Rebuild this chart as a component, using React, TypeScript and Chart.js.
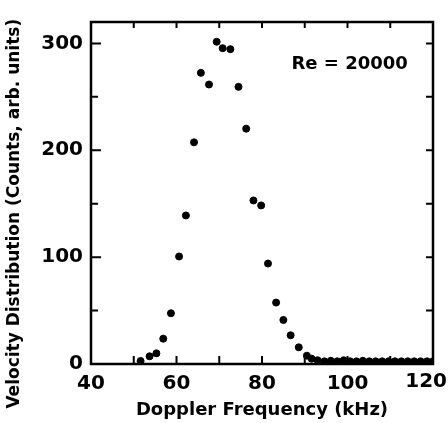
import React, { useEffect, useRef } from "react";
import { Chart, registerables } from "chart.js";

Chart.register(...registerables);

const frequencyKHz: number[] = [
  51.6, 53.7, 55.3, 56.9, 58.7, 60.6, 62.2, 64.1, 65.7, 67.6, 69.4, 70.8,
  72.6, 74.5, 76.3, 78.0, 79.8, 81.4, 83.3, 85.0, 86.7, 88.6, 90.5, 91.6,
  93.0, 94.6, 96.1, 97.6, 99.1, 100.6, 102.1, 103.6, 105.1, 106.6, 108.1,
  109.6, 111.1, 112.6, 114.1, 115.6, 117.1, 118.6, 120.0,
];
const counts: number[] = [
  2.8, 7.2, 10, 23.7, 47.5, 100.6, 139, 207.4, 272.4, 261.5, 301.5, 295.5,
  294.6, 259.3, 220.2, 153, 148.4, 94, 57.5, 41.2, 26.9, 15.6, 7.8, 5.0,
  3.5, 2.5, 3.0, 2.5, 3.5, 2.5, 2.5, 3.0, 2.5, 2.5, 2.5, 2.5, 2.5, 2.5,
  2.5, 2.5, 2.5, 2.5, 2.5,
];
const xTitle = "Doppler Frequency (kHz)";
const yTitle =
  "Velocity Distribution (Counts, arb. units)\u00a0\u00a0\u00a0\u00a0\u00a0\u00a0\u00a0";
const annotationText = "Re = 20000";
const annotationAt = { x: 100.5, y: 280 };
const X_MAX = 120;

const FONT = "'DejaVu Sans', sans-serif";
const TICK_FONT_SIZE = 20;
const TICK_PAD = 8;

const framePlugin = {
  id: "frame",
  afterDatasetsDraw(chart: any) {
    const { ctx, chartArea: a, scales, width } = chart;
    const xs = scales.x;
    const ys = scales.y;
    ctx.save();
    ctx.strokeStyle = "#000";
    ctx.lineWidth = 2.5;
    ctx.strokeRect(a.left, a.top, a.right - a.left, a.bottom - a.top);
    ctx.lineWidth = 2;
    ctx.beginPath();
    ys.ticks.forEach((t: any) => {
      const py = ys.getPixelForValue(t.value);
      if (t.value <= ys.min || t.value >= ys.max) return;
      const lenL = t.value % 100 === 0 ? 10 : 7;
      ctx.moveTo(a.left, py);
      ctx.lineTo(a.left + lenL, py);
      ctx.moveTo(a.right, py);
      ctx.lineTo(a.right - 7, py);
    });
    xs.ticks.forEach((t: any) => {
      const px = xs.getPixelForValue(t.value);
      if (t.value <= xs.min || t.value >= xs.max) return;
      ctx.moveTo(px, a.bottom);
      ctx.lineTo(px, a.bottom - 8);
      ctx.moveTo(px, a.top);
      ctx.lineTo(px, a.top + 6);
    });
    ctx.stroke();
    ctx.fillStyle = "#000";
    // last x tick label, kept inside the canvas
    ctx.font = `bold ${TICK_FONT_SIZE}px ${FONT}`;
    ctx.textAlign = "center";
    ctx.textBaseline = "top";
    const lastLabel = String(X_MAX);
    const w = ctx.measureText(lastLabel).width;
    const lx = Math.min(xs.getPixelForValue(X_MAX), width - 1 - w / 2);
    ctx.fillText(lastLabel, lx, xs.top + TICK_PAD);
    // annotation
    ctx.font = `bold 18px ${FONT}`;
    ctx.textBaseline = "middle";
    ctx.fillText(
      annotationText,
      xs.getPixelForValue(annotationAt.x),
      ys.getPixelForValue(annotationAt.y)
    );
    ctx.restore();
  },
};

export default function App() {
  const ref = useRef<HTMLCanvasElement>(null);
  useEffect(() => {
    if (!ref.current) return;
    const chart = new Chart(ref.current, {
      type: "scatter",
      data: {
        datasets: [
          {
            data: frequencyKHz.map((x, i) => ({ x, y: counts[i] })),
            backgroundColor: "#000",
            borderColor: "#000",
            pointRadius: 3.5,
            pointHoverRadius: 3.5,
          },
        ],
      },
      options: {
        animation: false,
        responsive: false,
        events: [],
        layout: { padding: { left: 0, right: 15, top: 22, bottom: 0 } },
        plugins: { legend: { display: false }, tooltip: { enabled: false } },
        scales: {
          x: {
            type: "linear",
            min: 40,
            max: X_MAX,
            grid: { display: false, drawTicks: false },
            border: { display: false },
            ticks: {
              stepSize: 10,
              padding: TICK_PAD,
              color: "#000",
              font: { family: FONT, size: TICK_FONT_SIZE, weight: "bold" },
              callback: (v: any) =>
                Number(v) % 20 === 0 && Number(v) !== X_MAX ? String(v) : "",
              maxRotation: 0,
              autoSkip: false,
            },
            title: {
              display: true,
              text: xTitle,
              color: "#000",
              font: { family: FONT, size: 18, weight: "bold" },
              padding: { top: 0, bottom: 2 },
            },
            afterFit: (s: any) => {
              s.height = 59;
              s.paddingLeft = 0;
              s.paddingRight = 0;
            },
          },
          y: {
            type: "linear",
            min: 0,
            max: 320,
            grid: { display: false, drawTicks: false },
            border: { display: false },
            ticks: {
              stepSize: 50,
              includeBounds: false,
              padding: TICK_PAD,
              color: "#000",
              font: { family: FONT, size: TICK_FONT_SIZE, weight: "bold" },
              callback: (v: any) => (Number(v) % 100 === 0 ? String(v) : ""),
              autoSkip: false,
            },
            title: {
              display: true,
              text: yTitle,
              color: "#000",
              font: { family: FONT, size: 17, weight: "bold" },
              padding: { top: 4, bottom: 0 },
            },
            afterFit: (s: any) => {
              s.width = 91;
              s.paddingTop = 0;
              s.paddingBottom = 0;
            },
          },
        },
      },
      plugins: [framePlugin],
    });
    return () => chart.destroy();
  }, []);
  return (
    <div style={{ position: "fixed", left: 0, top: 0, width: 448, height: 423, background: "#fff" }}>
      <canvas ref={ref} width={448} height={423} style={{ width: 448, height: 423 }} />
    </div>
  );
}
